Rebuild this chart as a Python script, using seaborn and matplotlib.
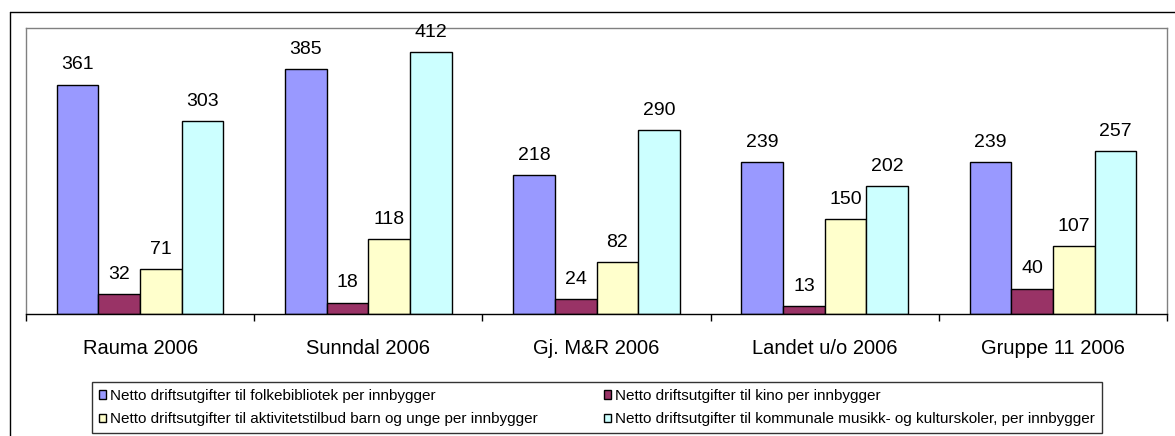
import seaborn as sns
import matplotlib.pyplot as plt
import pandas as pd
from matplotlib.lines import Line2D

# categories and series
steder = ['Rauma 2006', 'Sunndal 2006', 'Gj. M&R 2006', 'Landet u/o 2006', 'Gruppe 11 2006']
serier = ['Netto driftsutgifter til folkebibliotek per innbygger',
          'Netto driftsutgifter til kino per innbygger',
          'Netto driftsutgifter til aktivitetstilbud barn og unge per innbygger',
          'Netto driftsutgifter til kommunale musikk- og kulturskoler, per innbygger']
folkebibliotek = [361, 385, 218, 239, 239]
kino = [32, 18, 24, 13, 40]
aktivitet = [71, 118, 82, 150, 107]
musikk = [303, 412, 290, 202, 257]

farger = ['#9999FF', '#993366', '#FFFFCC', '#CCFFFF']

rows = []
for serie, verdier in zip(serier, [folkebibliotek, kino, aktivitet, musikk]):
    for sted, v in zip(steder, verdier):
        rows.append({'Sted': sted, 'Serie': serie, 'Verdi': v})
df = pd.DataFrame(rows)

sns.set_style('white')
plt.rcParams['font.family'] = ['Liberation Sans', 'DejaVu Sans']
plt.rcParams['text.color'] = 'black'
plt.rcParams['xtick.color'] = 'black'
plt.rcParams['xtick.labelcolor'] = 'black'

fig = plt.figure(figsize=(11.75, 4.36), dpi=100)
ax = fig.add_axes([26/1175, 1 - 314/436, (1167-26)/1175, (314-28)/436])

sns.barplot(data=df, x='Sted', y='Verdi', hue='Serie', hue_order=serier,
            palette=farger, width=0.73, edgecolor='black', linewidth=1,
            saturation=1, ax=ax, legend=True)

for c in ax.containers:
    ax.bar_label(c, fmt='%d', padding=8, fontsize=14, color='black')

ax.set_ylim(0, 450)
ax.set_xlim(-0.5, 4.5)
ax.set_xlabel('')
ax.set_ylabel('')
ax.set_yticks([])
ax.tick_params(axis='x', which='major', length=0, pad=18, labelsize=14.5, labelcolor='black')
ax.set_xticks([i - 0.5 for i in range(6)], minor=True)
ax.tick_params(axis='x', which='minor', bottom=True, length=5, width=1, color='black', direction='out')
for s in ['top', 'left', 'right']:
    ax.spines[s].set_color('#808080')
    ax.spines[s].set_linewidth(1)
ax.spines['bottom'].set_color('black')
ax.spines['bottom'].set_linewidth(1)

handles, labels = ax.get_legend_handles_labels()
ax.get_legend().remove()
order = [0, 2, 1, 3]
leg = fig.legend([handles[i] for i in order], [labels[i] for i in order],
                 ncol=2, loc='lower left',
                 bbox_to_anchor=(92/1175, 1 - 433/436),
                 fontsize=11, frameon=True, fancybox=False, edgecolor='black',
                 handlelength=0.45, handleheight=0.45, handletextpad=0.3,
                 columnspacing=4.3, borderpad=0.45, labelspacing=0.6, borderaxespad=0)
leg.get_frame().set_linewidth(1)

# outer chart frame
fig.add_artist(Line2D([10/1175, 10/1175], [0, 1 - 12/436], color='black', lw=1))
fig.add_artist(Line2D([10/1175, 1], [1 - 12/436, 1 - 12/436], color='black', lw=1))

fig.savefig('out.png', dpi=100)
